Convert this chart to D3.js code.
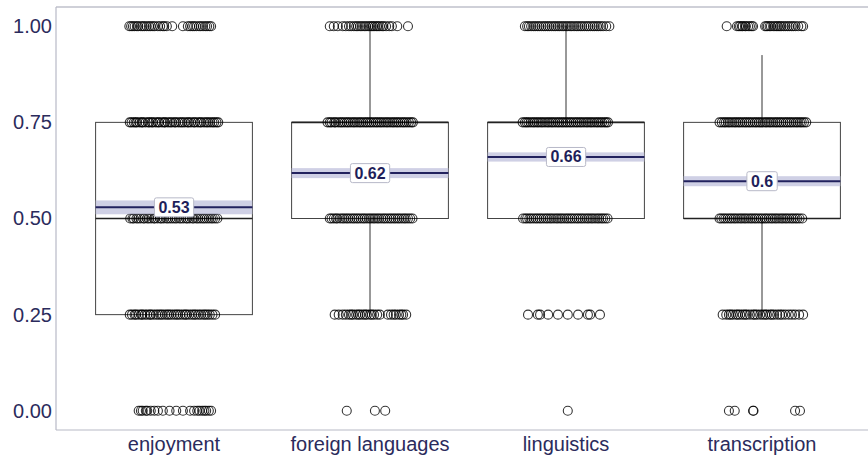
<!DOCTYPE html>
<html>
<head>
<meta charset="utf-8">
<script src="https://cdn.jsdelivr.net/npm/d3@7"></script>
<style>
  html, body { margin: 0; padding: 0; background: #fff; }
  svg { display: block; }
</style>
</head>
<body>
<svg id="chart" width="868" height="459"></svg>
<script>
// ---------- data ----------
const categories = ["enjoyment", "foreign languages", "linguistics", "transcription"];
const yTicks = [0, 0.25, 0.5, 0.75, 1];
const yTickLabels = ["0.00", "0.25", "0.50", "0.75", "1.00"];

const q1 = [0.25, 0.5, 0.5, 0.5];
const median = [0.5, 0.75, 0.75, 0.5];
const q3 = [0.75, 0.75, 0.75, 0.75];
const whiskerLow = [0.25, 0.25, 0.5, 0.25];
const whiskerHigh = [0.75, 1.0, 1.0, 0.925];

const means = [0.529, 0.618, 0.66, 0.597];
const ciLow = [0.511, 0.605, 0.648, 0.584];
const ciHigh = [0.547, 0.631, 0.672, 0.61];
const meanLabels = ["0.53", "0.62", "0.66", "0.6"];

// jittered responses: [value, horizontal jitter offsets (-1..1)]
const enjoymentPts = [
  [1.00, [-1.0,-0.96,-0.92,-0.88,-0.83,-0.8,-0.74,-0.7,-0.66,-0.61,-0.56,-0.52,-0.47,-0.43,-0.36,-0.31,-0.25,-0.22,-0.16,-0.04,0.2,0.31,0.36,0.41,0.45,0.5,0.56,0.6,0.65,0.7,0.74,0.79,0.83]],
  [0.75, [-0.99,-0.95,-0.9,-0.86,-0.83,-0.77,-0.72,-0.7,-0.64,-0.58,-0.55,-0.5,-0.47,-0.41,-0.36,-0.33,-0.27,-0.22,-0.2,-0.14,-0.09,-0.05,0.01,0.04,0.1,0.15,0.19,0.24,0.3,0.33,0.38,0.44,0.47,0.53,0.58,0.61,0.67,0.72,0.76,0.81,0.86,0.9,0.95,0.99]],
  [0.50, [-0.98,-0.93,-0.9,-0.84,-0.8,-0.75,-0.69,-0.66,-0.6,-0.56,-0.51,-0.45,-0.43,-0.37,-0.31,-0.28,-0.23,-0.17,-0.13,-0.08,-0.03,0.02,0.06,0.12,0.16,0.21,0.27,0.3,0.35,0.41,0.44,0.5,0.54,0.59,0.64,0.68,0.73,0.78,0.83,0.87,0.92,0.97]],
  [0.25, [-0.99,-0.94,-0.88,-0.85,-0.79,-0.73,-0.71,-0.65,-0.6,-0.54,-0.52,-0.46,-0.4,-0.35,-0.3,-0.26,-0.2,-0.15,-0.11,-0.06,0.0,0.05,0.09,0.14,0.2,0.25,0.28,0.34,0.4,0.45,0.49,0.55,0.6,0.66,0.7,0.75,0.8,0.86,0.92]],
  [0.00, [-0.79,-0.74,-0.7,-0.63,-0.6,-0.52,-0.44,-0.36,-0.25,-0.1,0.05,0.2,0.36,0.45,0.52,0.57,0.63,0.68,0.72,0.78,0.83]]
];
const foreignPts = [
  [1.00, [-0.9,-0.81,-0.72,-0.61,-0.54,-0.47,-0.42,-0.36,-0.31,-0.27,-0.22,-0.18,-0.13,-0.09,-0.04,0.0,0.04,0.07,0.11,0.15,0.18,0.22,0.27,0.3,0.36,0.43,0.49,0.61,0.85]],
  [0.75, [-0.95,-0.9,-0.86,-0.8,-0.77,-0.71,-0.66,-0.62,-0.57,-0.52,-0.48,-0.43,-0.38,-0.34,-0.29,-0.24,-0.2,-0.15,-0.1,-0.06,-0.01,0.03,0.08,0.13,0.17,0.22,0.26,0.31,0.36,0.4,0.45,0.5,0.54,0.59,0.63,0.68,0.73,0.77,0.82,0.87,0.92,0.96]],
  [0.50, [-0.9,-0.86,-0.81,-0.76,-0.73,-0.67,-0.62,-0.58,-0.53,-0.49,-0.44,-0.39,-0.35,-0.3,-0.26,-0.21,-0.16,-0.12,-0.07,-0.02,0.02,0.07,0.11,0.16,0.2,0.25,0.3,0.34,0.39,0.44,0.48,0.53,0.57,0.62,0.66,0.71,0.76,0.8,0.85,0.9,0.95]],
  [0.25, [-0.79,-0.7,-0.61,-0.54,-0.47,-0.42,-0.38,-0.31,-0.26,-0.22,-0.16,-0.11,-0.07,0.0,0.04,0.09,0.16,0.22,0.4,0.47,0.53,0.58,0.65,0.7,0.74,0.81]],
  [0.00, [-0.52, 0.11, 0.34]]
];
const linguisticsPts = [
  [1.00, [-0.92,-0.87,-0.83,-0.78,-0.73,-0.69,-0.64,-0.6,-0.55,-0.5,-0.46,-0.41,-0.37,-0.32,-0.27,-0.23,-0.18,-0.14,-0.09,-0.05,0.0,0.04,0.09,0.13,0.18,0.23,0.27,0.32,0.36,0.41,0.46,0.5,0.55,0.6,0.64,0.69,0.73,0.78,0.83,0.9,0.97]],
  [0.75, [-0.97,-0.92,-0.88,-0.84,-0.79,-0.74,-0.7,-0.65,-0.61,-0.56,-0.52,-0.47,-0.42,-0.38,-0.33,-0.29,-0.24,-0.19,-0.15,-0.1,-0.06,-0.01,0.03,0.08,0.12,0.17,0.22,0.26,0.31,0.35,0.4,0.45,0.49,0.54,0.58,0.63,0.68,0.72,0.77,0.81,0.86,0.9,0.94]],
  [0.50, [-0.96,-0.91,-0.87,-0.82,-0.78,-0.73,-0.68,-0.64,-0.59,-0.55,-0.5,-0.45,-0.41,-0.36,-0.32,-0.27,-0.22,-0.18,-0.13,-0.09,-0.04,0.01,0.05,0.1,0.14,0.19,0.24,0.28,0.33,0.37,0.42,0.47,0.51,0.56,0.6,0.65,0.7,0.74,0.79,0.83,0.88,0.93]],
  [0.25, [-0.85,-0.63,-0.58,-0.4,-0.18,0.04,0.27,0.49,0.54,0.76]],
  [0.00, [0.04]]
];
const transcriptionPts = [
  [1.00, [-0.79,-0.56,-0.52,-0.49,-0.45,-0.43,-0.38,-0.36,-0.31,-0.27,-0.23,-0.2,0.07,0.1,0.13,0.17,0.2,0.25,0.29,0.33,0.36,0.4,0.43,0.48,0.52,0.57,0.61,0.66,0.7,0.75,0.81,0.88,0.92]],
  [0.75, [-0.95,-0.9,-0.85,-0.81,-0.76,-0.72,-0.67,-0.62,-0.58,-0.53,-0.49,-0.44,-0.39,-0.35,-0.3,-0.26,-0.21,-0.16,-0.12,-0.07,-0.03,0.02,0.07,0.11,0.16,0.2,0.25,0.3,0.34,0.39,0.43,0.48,0.53,0.57,0.62,0.66,0.71,0.76,0.8,0.85,0.89,0.94,0.99]],
  [0.50, [-0.95,-0.91,-0.86,-0.82,-0.77,-0.72,-0.68,-0.63,-0.59,-0.54,-0.49,-0.45,-0.4,-0.36,-0.31,-0.26,-0.22,-0.17,-0.13,-0.08,-0.03,0.01,0.06,0.1,0.15,0.2,0.24,0.29,0.33,0.38,0.43,0.47,0.52,0.56,0.61,0.66,0.7,0.75,0.79,0.84,0.9]],
  [0.25, [-0.88,-0.8,-0.74,-0.7,-0.65,-0.58,-0.54,-0.49,-0.43,-0.38,-0.34,-0.27,-0.2,-0.16,-0.11,-0.04,0.02,0.07,0.11,0.18,0.22,0.27,0.34,0.4,0.45,0.52,0.6,0.67,0.74,0.83,0.92]],
  [0.00, [-0.74,-0.61,-0.2,-0.19,0.74,0.85]]
];
const pointSets = [enjoymentPts, foreignPts, linguisticsPts, transcriptionPts];

// ---------- drawing ----------
const panel = { left: 56, right: 868, top: 7, bottom: 430 };
const svg = d3.select("#chart");

const x = d3.scaleBand().domain(categories).range([76, 860]).paddingInner(0.2).paddingOuter(0.1);
const y = d3.scaleLinear().domain([-0.05, 1.05]).range([panel.bottom, panel.top]);
const bw = x.bandwidth();
const jitter = d3.scaleLinear().domain([-1, 1]).range([-0.285 * bw, 0.285 * bw]);

const textColor = "#2b2b5c";
const fontFam = "'Liberation Sans', Arial, Helvetica, sans-serif";

// panel frame
svg.append("line").attr("x1", panel.left).attr("x2", panel.right).attr("y1", panel.top).attr("y2", panel.top)
  .attr("stroke", "#cfd0d8").attr("stroke-width", 2);
svg.append("line").attr("x1", panel.left).attr("x2", panel.left).attr("y1", panel.top).attr("y2", panel.bottom)
  .attr("stroke", "#b8b9c6").attr("stroke-width", 1.2);
svg.append("line").attr("x1", panel.left).attr("x2", panel.right).attr("y1", panel.bottom).attr("y2", panel.bottom)
  .attr("stroke", "#b8b9c6").attr("stroke-width", 1.2);

// y axis labels
const yAxis = d3.axisLeft(y).tickValues(yTicks).tickFormat((d, i) => yTickLabels[i]).tickSize(0).tickPadding(4);
const gy = svg.append("g").attr("transform", `translate(${panel.left},0)`).call(yAxis);
gy.select(".domain").remove();
gy.selectAll("text").attr("font-family", fontFam).attr("font-size", 20).attr("fill", textColor);

// x axis labels
const xAxis = d3.axisBottom(x).tickSize(0).tickPadding(7);
const gx = svg.append("g").attr("transform", `translate(0,${panel.bottom})`).call(xAxis);
gx.select(".domain").remove();
gx.selectAll("text").attr("font-family", fontFam).attr("font-size", 20).attr("fill", textColor);

// boxes
categories.forEach((c, i) => {
  const g = svg.append("g");
  const x0 = x(c), xc = x0 + bw / 2;
  if (whiskerHigh[i] > q3[i]) g.append("line").attr("x1", xc).attr("x2", xc).attr("y1", y(q3[i])).attr("y2", y(whiskerHigh[i])).attr("stroke", "#333").attr("stroke-width", 1);
  if (whiskerLow[i] < q1[i]) g.append("line").attr("x1", xc).attr("x2", xc).attr("y1", y(q1[i])).attr("y2", y(whiskerLow[i])).attr("stroke", "#333").attr("stroke-width", 1);
  g.append("rect").attr("x", x0).attr("y", y(q3[i])).attr("width", bw).attr("height", y(q1[i]) - y(q3[i]))
    .attr("fill", "none").attr("stroke", "#444").attr("stroke-width", 1);
  g.append("line").attr("x1", x0).attr("x2", x0 + bw).attr("y1", y(median[i])).attr("y2", y(median[i]))
    .attr("stroke", "#222").attr("stroke-width", 1.6);
});

// points
categories.forEach((c, i) => {
  const xc = x(c) + bw / 2;
  const pts = [];
  pointSets[i].forEach(([v, js]) => js.forEach(j => pts.push({ v, j })));
  svg.append("g").selectAll("circle").data(pts).join("circle")
    .attr("cx", d => xc + jitter(d.j)).attr("cy", d => y(d.v)).attr("r", 4.5)
    .attr("fill", "none").attr("stroke", "#000").attr("stroke-opacity", 0.8).attr("stroke-width", 1.1);
});

// means with CI band and labels
categories.forEach((c, i) => {
  const x0 = x(c), xc = x0 + bw / 2;
  svg.append("rect").attr("x", x0).attr("y", y(ciHigh[i])).attr("width", bw).attr("height", y(ciLow[i]) - y(ciHigh[i]))
    .attr("fill", "#c3c4de").attr("opacity", 0.8);
  svg.append("line").attr("x1", x0).attr("x2", x0 + bw).attr("y1", y(means[i])).attr("y2", y(means[i]))
    .attr("stroke", "#22225e").attr("stroke-width", 2);
  const t = svg.append("text").attr("x", xc).attr("y", y(means[i])).attr("text-anchor", "middle")
    .attr("dominant-baseline", "central").attr("font-family", fontFam).attr("font-weight", "bold")
    .attr("font-size", 16).attr("fill", "#1f1f5a").text(meanLabels[i]);
  const bb = t.node().getBBox();
  svg.insert("rect", () => t.node()).attr("x", bb.x - 4).attr("y", y(means[i]) - 9.5).attr("width", bb.width + 8).attr("height", 19)
    .attr("rx", 2).attr("fill", "#fff").attr("stroke", "#b8b9c8").attr("stroke-width", 1);
});
</script>
</body>
</html>
